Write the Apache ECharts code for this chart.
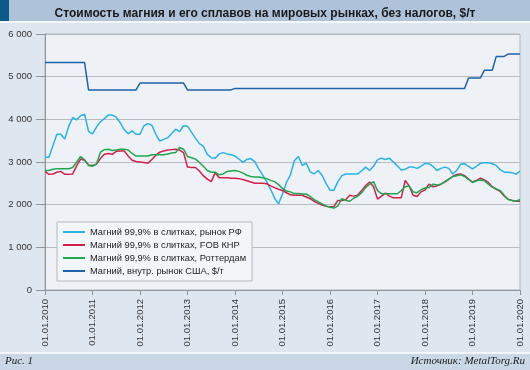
<!DOCTYPE html>
<html><head><meta charset="utf-8">
<script src="https://cdn.jsdelivr.net/npm/echarts@6/dist/echarts.min.js"></script>
<style>html,body{margin:0;padding:0;background:#dee6ef;}#c{width:530px;height:370px;}</style>
</head><body><div id="c"></div>
<script>
// Monthly values, Jan 2010 (index 0) .. Jan 2020 (index 120)
const xTickLabels = ['01.01.2010','01.01.2011','01.01.2012','01.01.2013','01.01.2014','01.01.2015','01.01.2016','01.01.2017','01.01.2018','01.01.2019','01.01.2020'];
const yTicks = [0,1000,2000,3000,4000,5000,6000];
const seriesNames = ['Магний 99,9% в слитках, рынок РФ','Магний 99,9% в слитках, FOB КНР','Магний 99,9% в слитках, Роттердам','Магний, внутр. рынок США, $/т'];

const rf = [3110,3110,3380,3650,3650,3540,3840,4040,3990,4086,4120,3720,3660,3820,3940,4020,4100,4100,4050,3920,
  3760,3660,3730,3650,3650,3850,3900,3860,3650,3490,3530,3570,3670,3770,3710,3850,3840,3700,3560,3430,
  3370,3180,3100,3090,3190,3220,3190,3170,3140,3070,2990,3060,3080,3010,2840,2690,2540,2360,2150,2020,
  2250,2520,2700,3030,3130,2920,2970,2770,2720,2800,2690,2500,2340,2340,2540,2680,2720,2720,2720,2720,
  2790,2880,2800,2900,3050,3090,3060,3090,3000,2910,2810,2830,2880,2880,2850,2900,2970,2960,2900,2800,
  2850,2880,2850,2720,2800,2950,2960,2900,2840,2900,2970,2980,2980,2960,2920,2820,2760,2760,2750,2710,2790];

const fob = [2780,2710,2720,2760,2780,2710,2710,2720,2910,3070,3040,2930,2920,2950,3080,3180,3200,3180,3250,3260,
  3260,3140,3040,3010,3000,2990,2970,3060,3160,3230,3260,3280,3290,3300,3280,3220,2880,2870,2870,2790,
  2680,2600,2540,2750,2630,2630,2630,2620,2620,2610,2590,2560,2530,2500,2500,2500,2490,2440,2400,2360,
  2330,2280,2230,2220,2220,2220,2180,2140,2080,2030,1990,1960,1950,1960,2100,2100,2120,2220,2200,2224,
  2330,2450,2530,2420,2130,2200,2270,2200,2160,2160,2160,2570,2440,2220,2190,2300,2340,2480,2420,2440,
  2480,2530,2590,2660,2710,2720,2680,2600,2530,2570,2620,2580,2520,2420,2360,2310,2200,2130,2100,2080,2080];

const rotterdam = [2800,2800,2830,2840,2840,2840,2840,2870,3000,3130,3050,2920,2900,2950,3230,3290,3300,3270,3280,3300,
  3300,3280,3200,3140,3140,3140,3140,3170,3170,3170,3170,3190,3210,3220,3340,3300,3130,3100,3070,2990,
  2900,2800,2760,2760,2700,2720,2780,2790,2800,2780,2740,2690,2660,2650,2650,2630,2610,2570,2540,2470,
  2380,2320,2300,2260,2260,2250,2250,2190,2120,2070,2020,1970,1940,1920,1970,2140,2100,2080,2150,2200,
  2280,2400,2480,2540,2330,2260,2256,2256,2256,2256,2330,2420,2440,2300,2280,2350,2390,2400,2480,2460,
  2480,2540,2600,2660,2680,2700,2660,2590,2520,2560,2580,2560,2480,2410,2370,2330,2220,2120,2100,2080,2120];

const usa = [5330,5330,5330,5330,5330,5330,5330,5330,5330,5330,5330,
  4690,4690,4690,4690,4690,4690,4690,4690,4690,4690,4690,4690,4690,
  4850,4850,4850,4850,4850,4850,4850,4850,4850,4850,4850,4850,
  4690,4690,4690,4690,4690,4690,4690,4690,4690,4690,4690,4690,
  4725,4725,4725,4725,4725,4725,4725,4725,4725,4725,4725,4725,4725,4725,4725,4725,4725,4725,4725,4725,
  4725,4725,4725,4725,4725,4725,4725,4725,4725,4725,4725,4725,4725,4725,4725,4725,4725,4725,4725,4725,
  4725,4725,4725,4725,4725,4725,4725,4725,4725,4725,4725,4725,4725,4725,4725,4725,4725,4725,4725,
  4970,4970,4970,4970,5150,5150,5150,5475,5475,5475,5530,5530,5530,5530];

const colors = ['#27b3e6','#d21f4b','#1fa64e','#1c63a9'];
const toXY = arr => arr.map((v,i)=>[i,v]);

const chart = echarts.init(document.getElementById('c'), null, {renderer:'canvas'});
const font = 'Liberation Sans, Arial, sans-serif';
chart.setOption({
  backgroundColor: '#dee6ef',
  animation: false,
  title: {
    text: 'Стоимость магния и его сплавов на мировых рынках, без налогов, $/т',
    left: 'center', top: 3,
    textStyle: {fontFamily: font, fontSize: 12, fontWeight: 'bold', color: '#1a1a1a'}
  },
  graphic: [
    {type:'rect', z:-1, shape:{x:0,y:0,width:530,height:21}, style:{fill:'#aec3d9'}},
    {type:'rect', z:-1, shape:{x:0,y:0,width:9,height:21}, style:{fill:'#0b5a8a'}},
    {type:'rect', z:-1, shape:{x:0,y:21,width:530,height:2}, style:{fill:'#f4f7fa'}},
    {type:'rect', z:-1, shape:{x:0,y:352,width:530,height:2}, style:{fill:'#f4f7fa'}},
    {type:'rect', z:-1, shape:{x:0,y:354,width:530,height:16}, style:{fill:'#c9d7e6'}},
    {type:'text', left:5, top:356, style:{text:'Рис. 1', fontFamily:'Liberation Serif, serif', fontStyle:'italic', fontSize:11, fill:'#222'}},
    {type:'text', right:5, top:356, style:{text:'Источник: MetalTorg.Ru', fontFamily:'Liberation Serif, serif', fontStyle:'italic', fontSize:11, fill:'#222'}}
  ],
  grid: {left:45, right:10, top:34, bottom:80, show:true, backgroundColor:'#eef2f7', borderColor:'#b5b9bf', borderWidth:1},
  legend: {
    orient:'vertical', left:57, top:222,
    backgroundColor:'#f3f6f9', borderColor:'#b5b9bf', borderWidth:1,
    padding:[4,6,4,6], itemGap:1, itemWidth:22, itemHeight:2, icon:'rect',
    textStyle:{fontFamily:font, fontSize:9.3, lineHeight:12, color:'#222'},
    data: seriesNames
  },
  xAxis: {
    type:'value', min:0, max:120, interval:12,
    axisLine:{show:true, lineStyle:{color:'#8f959c'}},
    axisTick:{show:true, length:5, lineStyle:{color:'#8f959c'}},
    splitLine:{show:false},
    axisLabel:{rotate:90, margin:9, fontFamily:font, fontSize:9.5, color:'#333',
      formatter: v => xTickLabels[Math.round(v/12)]}
  },
  yAxis: {
    type:'value', min:yTicks[0], max:yTicks[yTicks.length-1], interval:1000,
    axisLine:{show:true, lineStyle:{color:'#8f959c'}},
    axisTick:{show:true, inside:false, length:9, lineStyle:{color:'#8f959c'}},
    splitLine:{show:true, lineStyle:{color:'#b8bcc2', width:1}},
    axisLabel:{margin:13, fontFamily:font, fontSize:9.5, color:'#333',
      formatter: v => v >= 1000 ? Math.floor(v/1000) + ' ' + String(v%1000).padStart(3,'0') : String(v)}
  },
  series: [
    {name:seriesNames[0], type:'line', data:toXY(rf), showSymbol:false, symbol:'none', color:colors[0], lineStyle:{width:1.5}},
    {name:seriesNames[1], type:'line', data:toXY(fob), showSymbol:false, symbol:'none', color:colors[1], lineStyle:{width:1.5}},
    {name:seriesNames[2], type:'line', data:toXY(rotterdam), showSymbol:false, symbol:'none', color:colors[2], lineStyle:{width:1.5}},
    {name:seriesNames[3], type:'line', data:toXY(usa), showSymbol:false, symbol:'none', color:colors[3], lineStyle:{width:1.5}}
  ]
});
</script></body></html>
